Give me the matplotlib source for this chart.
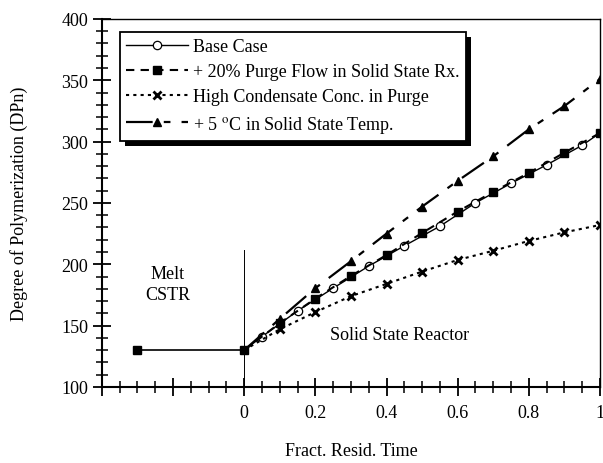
import matplotlib
matplotlib.use("Agg")
import matplotlib.pyplot as plt
from matplotlib.patches import Rectangle
from matplotlib.ticker import MultipleLocator, FixedLocator

plt.rcParams["font.family"] = ["Liberation Serif", "DejaVu Serif"]
plt.rcParams["mathtext.fontset"] = "stix"

# ---- data ----
melt_x = [-0.3, 0.0]
melt_y = [130, 130]

base_x = [0.0, 0.05, 0.15, 0.25, 0.35, 0.45, 0.55, 0.65, 0.75, 0.85, 0.95, 1.0]
base_y = [130, 141, 162, 180.5, 198.5, 215, 231, 250, 266, 281, 297, 307]

purge_x = [0.0, 0.1, 0.2, 0.3, 0.4, 0.5, 0.6, 0.7, 0.8, 0.9, 1.0]
purge_y = [130, 152, 172, 190.5, 207.5, 225.5, 243, 259, 274.5, 291, 307]

cond_x = [0.0, 0.1, 0.2, 0.3, 0.4, 0.5, 0.6, 0.7, 0.8, 0.9, 1.0]
cond_y = [130, 147, 161, 174, 184, 194, 203.5, 211, 219, 226, 232]

temp_x = [0.0, 0.1, 0.2, 0.3, 0.4, 0.5, 0.6, 0.7, 0.8, 0.9, 1.0]
temp_y = [130, 155.5, 180.5, 202.5, 225, 247, 268, 288, 310, 329, 351]

labels = ["Base Case", "+ 20% Purge Flow in Solid State Rx.",
          "High Condensate Conc. in Purge", "+ 5 $^{\\mathrm{o}}$C in Solid State Temp."]
xtick_vals = [0, 0.2, 0.4, 0.6, 0.8, 1]

fig = plt.figure(figsize=(6.03, 4.64), dpi=100)
ax = fig.add_axes([0.169, 0.164, 0.826, 0.793])

ax.plot(melt_x, melt_y, color="black", lw=1.2, marker="s", ms=6)
ax.plot([0, 0], [100, 212], color="black", lw=0.7)

ax.plot(base_x, base_y, color="black", lw=1.0, marker="o", ms=6,
        mfc="white", mec="black", mew=0.9, markevery=list(range(1, 11)), label=labels[0])
ax.plot(purge_x, purge_y, color="black", lw=1.5, ls=(0, (4, 3)), marker="s", ms=6,
        markevery=list(range(1, 11)), label=labels[1])
ax.plot(cond_x, cond_y, color="black", lw=1.5, ls=(0, (1.5, 2)), marker="x", ms=6,
        mew=2, markevery=list(range(1, 11)), label=labels[2])
ax.plot(temp_x, temp_y, color="black", lw=1.6, ls=(0, (12, 5, 3, 5)), marker="^", ms=6,
        markevery=list(range(1, 11)), label=labels[3])

ax.text(-0.215, 184, "Melt\nCSTR", ha="center", va="center", fontsize=13, linespacing=1.3)
ax.text(0.24, 143, "Solid State Reactor", ha="left", va="center", fontsize=13)

ax.set_xlim(-0.4, 1.0)
ax.set_ylim(100, 400)
ax.xaxis.set_major_locator(FixedLocator([-0.4, -0.2] + xtick_vals))
ax.set_xticklabels(["", ""] + [f"{v:g}" for v in xtick_vals])
ax.xaxis.set_minor_locator(MultipleLocator(0.05))
ax.yaxis.set_major_locator(MultipleLocator(50))
ax.yaxis.set_minor_locator(MultipleLocator(10))
ax.tick_params(which="major", direction="inout", length=13, width=1.3, labelsize=13)
ax.tick_params(which="minor", direction="inout", length=8, width=1.1)
ax.tick_params(axis="x", which="both", top=False)
ax.tick_params(axis="y", which="both", right=False)
ax.tick_params(axis="x", pad=6)
for s in ("left", "bottom"):
    ax.spines[s].set_linewidth(1.5)
for s in ("top", "right"):
    ax.spines[s].set_linewidth(1.0)

ax.set_xlabel("Fract. Resid. Time", fontsize=13, labelpad=15)
ax.set_ylabel("Degree of Polymerization (DPn)", fontsize=13, labelpad=24)

leg = ax.legend(loc="upper left", bbox_to_anchor=(0.036, 0.965), fontsize=13,
                fancybox=False, framealpha=1, edgecolor="black", handlelength=3.4,
                borderpad=0.35, labelspacing=0.45, handletextpad=0.3, borderaxespad=0)
leg.get_frame().set_linewidth(1.3)

# solid black drop shadow to the lower right of the legend box
fig.canvas.draw()
bb = leg.get_window_extent().transformed(ax.transAxes.inverted())
dx, dy = 5 / (0.826 * 603), 5 / (0.793 * 464)
shadow = Rectangle((bb.x0 + dx, bb.y0 - dy), bb.width, bb.height, transform=ax.transAxes,
                   facecolor="black", edgecolor="none", clip_on=False, zorder=4.9)
ax.add_patch(shadow)

fig.savefig("out.png", dpi=100)
